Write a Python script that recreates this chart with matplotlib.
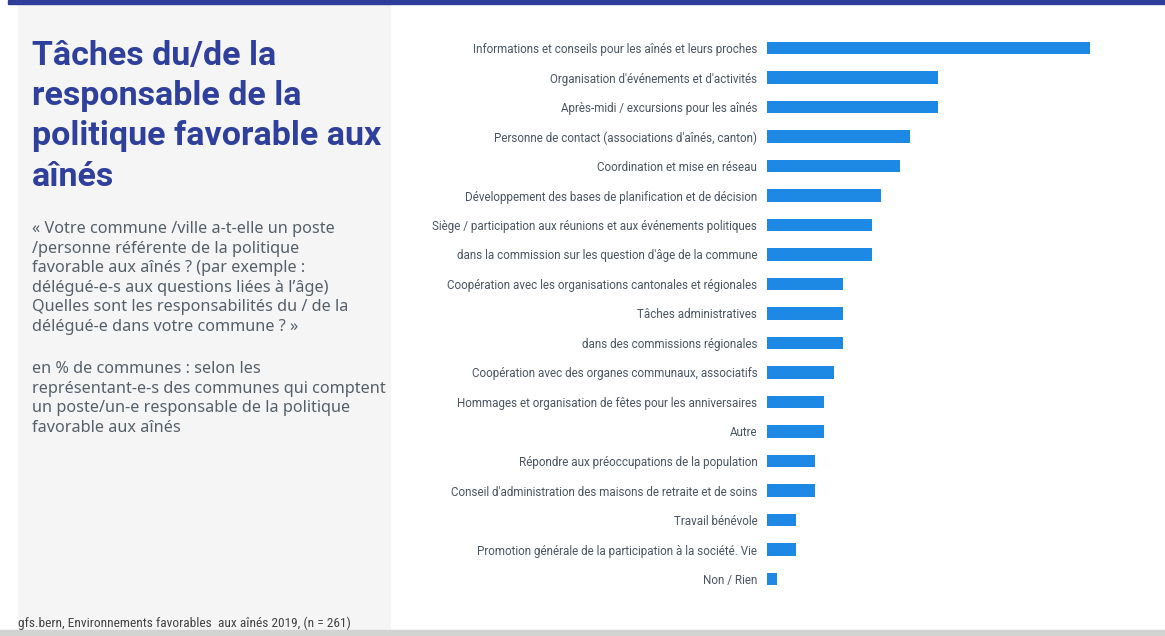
import matplotlib.pyplot as plt
from matplotlib.patches import Rectangle

# Données (en % de communes)
taches = [
    "Informations et conseils pour les aînés et leurs proches",
    "Organisation d'événements et d'activités",
    "Après-midi / excursions pour les aînés",
    "Personne de contact (associations d'aînés, canton)",
    "Coordination et mise en réseau",
    "Développement des bases de planification et de décision",
    "Siège / participation aux réunions et aux événements politiques",
    "dans la commission sur les question d'âge de la commune",
    "Coopération avec les organisations cantonales et régionales",
    "Tâches administratives",
    "dans des commissions régionales",
    "Coopération avec des organes communaux, associatifs",
    "Hommages et organisation de fêtes pour les anniversaires",
    "Autre",
    "Répondre aux préoccupations de la population",
    "Conseil d'administration des maisons de retraite et de soins",
    "Travail bénévole",
    "Promotion générale de la participation à la société. Vie",
    "Non / Rien",
]
pourcentages = [34, 18, 18, 15, 14, 12, 11, 11, 8, 8, 8, 7, 6, 6, 5, 5, 3, 3, 1]

titre = "Tâches du/de la\nresponsable de la\npolitique favorable aux\naînés"
question = ("« Votre commune /ville a-t-elle un poste\n"
            "/personne référente de la politique\n"
            "favorable aux aînés ? (par exemple :\n"
            "délégué-e-s aux questions liées à l’âge)\n"
            "Quelles sont les responsabilités du / de la\n"
            "délégué-e dans votre commune ? »")
base = ("en % de communes : selon les\n"
        "représentant-e-s des communes qui comptent\n"
        "un poste/un-e responsable de la politique\n"
        "favorable aux aînés")
source = "gfs.bern, Environnements favorables  aux aînés 2019, (n = 261)"

bleu_fonce = "#2f3f9c"
bleu_barre = "#1e88e5"
gris_texte = "#55606b"

fig = plt.figure(figsize=(11.65, 6.36), dpi=100)

# fond gauche, bande du haut et du bas
fig.patches.append(Rectangle((18 / 1165, 6 / 636), 372 / 1165, 626 / 636,
                             transform=fig.transFigure, color="#f5f5f5", zorder=0))
fig.patches.append(Rectangle((8 / 1165, 1 - 4 / 636), 1, 4 / 636,
                             transform=fig.transFigure, color="#2e3d99", zorder=1))
fig.patches.append(Rectangle((0, 0), 1, 6 / 636,
                             transform=fig.transFigure, color="#d2d4d2", zorder=1))

fig.text(32 / 1165, 1 - 40 / 636, titre, fontsize=24.5, fontweight="bold",
         family="Roboto", color=bleu_fonce, va="top", linespacing=1.33)
fig.text(32 / 1165, 1 - 221 / 636, question, fontsize=11.7, family="Noto Sans",
         color=gris_texte, va="top", linespacing=1.3)
fig.text(32 / 1165, 1 - 361 / 636, base, fontsize=11.7, family="Noto Sans",
         color=gris_texte, va="top", linespacing=1.3)
fig.text(18 / 1165, 1 - 630 / 636, source, fontsize=9.6, family="Roboto Condensed",
         color="#444444", va="bottom")

ax = fig.add_axes([767 / 1165, 1 - 593.75 / 636, 380 / 1165, 560.5 / 636])
y = list(range(len(taches)))
ax.barh(y, pourcentages, height=0.42, color=bleu_barre)
ax.set_xlim(0, 40)
ax.set_ylim(len(taches) - 0.5, -0.5)
ax.set_yticks(y)
ax.set_yticklabels(taches, fontsize=8.4, family="Roboto", color="#4a5563")
ax.tick_params(axis="y", length=0, pad=7)
ax.set_xticks([])
for s in ax.spines.values():
    s.set_visible(False)
ax.patch.set_alpha(0)

fig.savefig("out.png", dpi=100)
